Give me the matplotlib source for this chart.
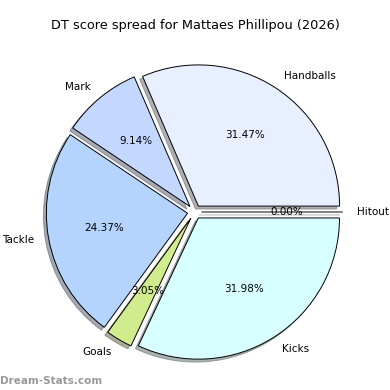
import matplotlib
matplotlib.use('Agg')
from matplotlib import pyplot as plt

labels = ['Handballs', 'Mark', 'Tackle', 'Goals', 'Kicks', 'Hitout']
values = [31.47, 9.14, 24.37, 3.05, 31.98, 0.0]
colors = ['#e8f0ff', '#c4d8ff', '#b4d4ff', '#d0ec8c', '#d8ffff', '#ffffff']
explode = [0.05] * len(values)

fig = plt.figure(figsize=(3.9, 3.9), dpi=100)
ax = fig.add_axes([6 / 390, -10.5 / 390, 377 / 390, 377 / 390])

wedges, texts, autotexts = ax.pie(
	values,
	labels=labels,
	colors=colors,
	explode=explode,
	autopct='%1.2f%%',
	startangle=0,
	shadow={'ox': -0.015, 'oy': -0.015, 'shade': 0.6},
	wedgeprops={'edgecolor': 'black', 'linewidth': 0.7},
	textprops={'fontsize': 7.5},
)
ax.set_aspect('equal')
ax.set_xlim(-1.335, 1.335)
ax.set_ylim(-1.335, 1.335)

fig.suptitle('DT score spread for Mattaes Phillipou (2026)', fontsize=9.3, y=0.95)

# watermark
fig.text(0.0, 0.015, 'Dream-Stats.com', fontsize=7.5, color='#999999', fontweight='bold')

fig.savefig('out.png', dpi=100)
